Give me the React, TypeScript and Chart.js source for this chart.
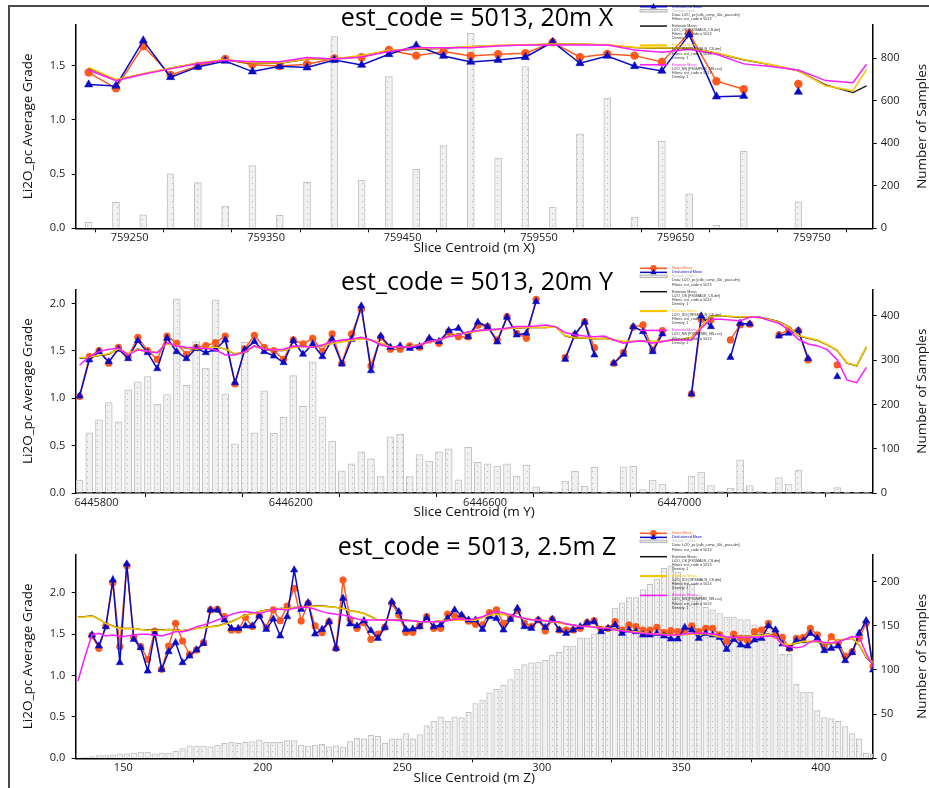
import React, { useEffect, useRef } from 'react';
import { Chart, registerables } from 'chart.js';
Chart.register(...registerables);

// ---------------- Panel 1 : 20m X slices ----------------
const X_CENTROIDS = [759220, 759240, 759260, 759280, 759300, 759320, 759340, 759360, 759380, 759400, 759420, 759440, 759460, 759480, 759500, 759520, 759540, 759560, 759580, 759600, 759620, 759640, 759660, 759680, 759700, 759720, 759740, 759760, 759780];
const X_COUNT = [28, 122, 63, 256, 215, 104, 295, 61, 216, 902, 227, 714, 278, 389, 918, 331, 761, 100, 445, 613, 53, 411, 162, 14, 362, 0, 125, 0, 0];
const X_NAIVE = [1.436, 1.291, 1.681, 1.414, 1.497, 1.562, 1.509, 1.497, 1.512, 1.565, 1.577, 1.645, 1.592, 1.629, 1.589, 1.605, 1.614, 1.715, 1.577, 1.608, 1.592, 1.534, 1.798, 1.356, 1.282, null, 1.331, null, null];
const X_DECL = [1.325, 1.313, 1.731, 1.393, 1.488, 1.543, 1.445, 1.494, 1.482, 1.552, 1.506, 1.605, 1.685, 1.589, 1.534, 1.552, 1.577, 1.718, 1.522, 1.589, 1.494, 1.451, 1.786, 1.214, 1.220, null, 1.257, null, null];
const X_EST_CENTROIDS = [759220, 759240, 759260, 759280, 759300, 759320, 759340, 759360, 759380, 759400, 759420, 759440, 759460, 759480, 759500, 759520, 759540, 759560, 759580, 759600, 759620, 759640, 759660, 759680, 759700, 759720, 759740, 759760, 759780, 759790];
const X_OK = [1.476, 1.368, 1.423, 1.476, 1.522, 1.552, 1.522, 1.522, 1.559, 1.559, 1.589, 1.639, 1.651, 1.660, 1.675, 1.685, 1.691, 1.697, 1.697, 1.691, 1.666, 1.660, 1.660, 1.614, 1.552, 1.506, 1.451, 1.322, 1.251, 1.313];
const X_ID3 = [1.482, 1.372, 1.425, 1.478, 1.524, 1.555, 1.525, 1.525, 1.562, 1.562, 1.592, 1.642, 1.655, 1.662, 1.677, 1.688, 1.693, 1.699, 1.699, 1.693, 1.668, 1.663, 1.662, 1.617, 1.556, 1.509, 1.453, 1.315, 1.267, 1.466];
const X_NN = [1.460, 1.360, 1.420, 1.470, 1.520, 1.550, 1.535, 1.535, 1.575, 1.560, 1.580, 1.630, 1.665, 1.665, 1.665, 1.680, 1.690, 1.690, 1.690, 1.690, 1.645, 1.623, 1.651, 1.605, 1.516, 1.491, 1.460, 1.362, 1.343, 1.512];
const X_TICKS = [759250, 759300, 759350, 759400, 759450, 759500, 759550, 759600, 759650, 759700, 759750];
const X_TICK_LABELS = [759250, 759350, 759450, 759550, 759650, 759750];

// ---------------- Panel 2 : 20m Y slices ----------------
const Y_CENTROIDS = [
  6445765, 6445785, 6445805, 6445825, 6445845, 6445865, 6445885, 6445905, 6445925, 6445945,
  6445965, 6445985, 6446005, 6446025, 6446045, 6446065, 6446085, 6446105, 6446125, 6446145,
  6446165, 6446185, 6446205, 6446225, 6446245, 6446265, 6446285, 6446305, 6446325, 6446345,
  6446365, 6446385, 6446405, 6446425, 6446445, 6446465, 6446485, 6446505, 6446525, 6446545,
  6446565, 6446585, 6446605, 6446625, 6446645, 6446665, 6446685, 6446705, 6446725, 6446745,
  6446765, 6446785, 6446805, 6446825, 6446845, 6446865, 6446885, 6446905, 6446925, 6446945,
  6446965, 6446985, 6447005, 6447025, 6447045, 6447065, 6447085, 6447105, 6447125, 6447145,
  6447165, 6447185, 6447205, 6447225, 6447245, 6447265, 6447285, 6447305, 6447325, 6447345,
  6447365, 6447385];
const Y_COUNT = [
  29, 136, 165, 204, 161, 233, 251, 263, 201, 222, 438, 243, 342, 282, 436, 224, 111, 340, 136, 231,
  135, 171, 265, 196, 296, 172, 117, 50, 66, 93, 77, 37, 127, 133, 37, 87, 72, 93, 100, 30,
  103, 69, 66, 61, 66, 38, 63, 14, 4, 3, 27, 49, 15, 58, 2, 5, 59, 60, 8, 29,
  20, 2, 2, 38, 47, 17, 4, 11, 75, 17, 4, 2, 35, 20, 52, 4, 1, 2, 12, 2,
  1, 1];
const Y_NAIVE = [
  1.018, 1.440, 1.504, 1.370, 1.539, 1.440, 1.644, 1.504, 1.412, 1.658, 1.581, 1.465, 1.539, 1.556, 1.588, 1.658, 1.151, 1.521, 1.665, 1.539,
  1.504, 1.412, 1.616, 1.574, 1.634, 1.496, 1.680, 1.370, 1.680, 1.940, 1.342, 1.644, 1.518, 1.518, 1.553, 1.539, 1.616, 1.581, 1.704, 1.651,
  1.651, 1.771, 1.757, 1.616, 1.863, 1.687, 1.634, 2.046, null, null, 1.433, 1.669, 1.810, 1.535, null, 1.370, 1.486, 1.750, 1.775, 1.511,
  1.715, null, null, 1.046, 1.835, 1.827, null, 1.616, 1.775, 1.782, null, null, 1.669, 1.722, 1.715, 1.405, null, null, 1.352, null,
  null, null];
const Y_DECL = [
  1.025, 1.405, 1.493, 1.387, 1.518, 1.419, 1.609, 1.482, 1.313, 1.634, 1.493, 1.419, 1.528, 1.482, 1.518, 1.616, 1.165, 1.511, 1.599, 1.493,
  1.447, 1.377, 1.609, 1.465, 1.574, 1.440, 1.623, 1.363, 1.623, 1.975, 1.292, 1.658, 1.539, 1.553, 1.528, 1.546, 1.634, 1.599, 1.715, 1.739,
  1.650, 1.803, 1.757, 1.595, 1.856, 1.669, 1.687, 2.021, null, null, 1.412, 1.680, 1.803, 1.458, null, 1.370, 1.465, 1.757, 1.704, 1.493,
  1.680, null, null, 1.046, 1.870, 1.757, null, 1.433, 1.792, 1.785, null, null, 1.658, 1.687, 1.715, 1.419, null, null, 1.229, null,
  null, null];
const Y_OK = [
  1.423, 1.430, 1.451, 1.465, 1.528, 1.465, 1.521, 1.493, 1.482, 1.581, 1.553, 1.528, 1.518, 1.528, 1.546, 1.518, 1.468, 1.482, 1.553, 1.518,
  1.504, 1.504, 1.539, 1.553, 1.539, 1.553, 1.581, 1.599, 1.616, 1.634, 1.616, 1.581, 1.539, 1.539, 1.553, 1.563, 1.599, 1.616, 1.658, 1.680,
  1.694, 1.715, 1.722, 1.729, 1.739, 1.739, 1.746, 1.746, 1.746, 1.757, 1.658, 1.634, 1.634, 1.627, 1.634, 1.616, 1.599, 1.599, 1.606, 1.599,
  1.599, 1.616, 1.623, 1.644, 1.757, 1.870, 1.870, 1.863, 1.856, 1.856, 1.856, 1.835, 1.810, 1.757, 1.658, 1.634, 1.609, 1.563, 1.504, 1.370,
  1.342, 1.539];
const Y_ID3 = [
  1.428, 1.434, 1.455, 1.470, 1.524, 1.470, 1.518, 1.496, 1.486, 1.576, 1.556, 1.531, 1.520, 1.531, 1.542, 1.520, 1.472, 1.486, 1.550, 1.521,
  1.507, 1.507, 1.536, 1.550, 1.542, 1.556, 1.578, 1.596, 1.612, 1.630, 1.612, 1.584, 1.542, 1.542, 1.550, 1.566, 1.596, 1.612, 1.655, 1.676,
  1.690, 1.712, 1.719, 1.726, 1.736, 1.742, 1.749, 1.749, 1.749, 1.753, 1.662, 1.638, 1.637, 1.630, 1.631, 1.619, 1.602, 1.602, 1.603, 1.602,
  1.602, 1.613, 1.620, 1.641, 1.753, 1.866, 1.873, 1.866, 1.859, 1.859, 1.852, 1.832, 1.806, 1.753, 1.662, 1.638, 1.612, 1.566, 1.508, 1.375,
  1.347, 1.545];
const Y_NN = [
  1.352, 1.440, 1.493, 1.518, 1.528, 1.458, 1.511, 1.493, 1.482, 1.588, 1.553, 1.539, 1.528, 1.528, 1.511, 1.458, 1.458, 1.493, 1.553, 1.518,
  1.511, 1.518, 1.553, 1.546, 1.539, 1.563, 1.599, 1.616, 1.627, 1.644, 1.616, 1.563, 1.539, 1.546, 1.539, 1.563, 1.599, 1.616, 1.651, 1.669,
  1.704, 1.715, 1.722, 1.729, 1.739, 1.757, 1.757, 1.764, 1.775, 1.757, 1.694, 1.669, 1.658, 1.651, 1.658, 1.616, 1.581, 1.599, 1.606, 1.581,
  1.599, 1.616, 1.616, 1.616, 1.739, 1.835, 1.835, 1.827, 1.820, 1.856, 1.856, 1.820, 1.792, 1.722, 1.623, 1.574, 1.553, 1.511, 1.405, 1.194,
  1.165, 1.327];
const Y_TICKS = [6445800, 6446000, 6446200, 6446400, 6446600, 6446800, 6447000, 6447200];
const Y_TICK_LABELS = [6445800, 6446200, 6446600, 6447000];

// ---------------- Panel 3 : 2.5m Z slices ----------------
const Z_CENTROIDS = [
  133.75, 136.25, 138.75, 141.25, 143.75, 146.25, 148.75, 151.25, 153.75, 156.25,
  158.75, 161.25, 163.75, 166.25, 168.75, 171.25, 173.75, 176.25, 178.75, 181.25,
  183.75, 186.25, 188.75, 191.25, 193.75, 196.25, 198.75, 201.25, 203.75, 206.25,
  208.75, 211.25, 213.75, 216.25, 218.75, 221.25, 223.75, 226.25, 228.75, 231.25,
  233.75, 236.25, 238.75, 241.25, 243.75, 246.25, 248.75, 251.25, 253.75, 256.25,
  258.75, 261.25, 263.75, 266.25, 268.75, 271.25, 273.75, 276.25, 278.75, 281.25,
  283.75, 286.25, 288.75, 291.25, 293.75, 296.25, 298.75, 301.25, 303.75, 306.25,
  308.75, 311.25, 313.75, 316.25, 318.75, 321.25, 323.75, 326.25, 328.75, 331.25,
  333.75, 336.25, 338.75, 341.25, 343.75, 346.25, 348.75, 351.25, 353.75, 356.25,
  358.75, 361.25, 363.75, 366.25, 368.75, 371.25, 373.75, 376.25, 378.75, 381.25,
  383.75, 386.25, 388.75, 391.25, 393.75, 396.25, 398.75, 401.25, 403.75, 406.25,
  408.75, 411.25, 413.75, 416.25, 418.75];
const Z_COUNT = [
  0, 1, 2, 3, 3, 4, 5, 5, 6, 7, 7, 5, 6, 6, 8, 11, 14, 14, 14, 13,
  15, 17, 18, 17, 18, 19, 21, 18, 18, 18, 20, 20, 15, 14, 15, 16, 13, 14, 13, 19,
  23, 22, 26, 25, 17, 22, 22, 28, 22, 27, 37, 42, 47, 42, 47, 46, 52, 62, 66, 74,
  78, 83, 89, 101, 106, 108, 109, 111, 117, 120, 127, 127, 136, 136, 141, 142, 147, 170, 176, 182,
  182, 191, 197, 203, 215, 218, 211, 199, 197, 185, 171, 168, 164, 160, 160, 157, 157, 151, 149, 148,
  147, 118, 118, 84, 75, 75, 54, 46, 45, 42, 36, 28, 22, 6, 5];
const Z_NAIVE = [
  null, null, 1.481, 1.328, 1.598, 2.121, 1.348, 2.326, 1.461, 1.348,
  1.195, 1.537, 1.074, 1.356, 1.630, 1.416, 1.256, 1.308, 1.396, 1.791,
  1.799, 1.710, 1.549, 1.549, 1.702, 1.590, 1.722, 1.581, 1.791, 1.662,
  1.839, 2.052, 1.658, 1.871, 1.598, 1.517, 1.650, 1.328, 2.153, 1.678,
  1.569, 1.638, 1.437, 1.501, 1.581, 1.871, 1.730, 1.521, 1.521, 1.598,
  1.710, 1.569, 1.569, 1.742, 1.718, 1.710, 1.655, 1.618, 1.610, 1.759,
  1.791, 1.630, 1.698, 1.783, 1.630, 1.590, 1.670, 1.537, 1.678, 1.549,
  1.549, 1.549, 1.569, 1.638, 1.662, 1.557, 1.569, 1.650, 1.549, 1.610,
  1.590, 1.549, 1.549, 1.581, 1.517, 1.541, 1.529, 1.541, 1.598, 1.529,
  1.569, 1.569, 1.489, 1.408, 1.501, 1.449, 1.421, 1.529, 1.549, 1.630,
  1.489, 1.461, 1.328, 1.449, 1.461, 1.569, 1.489, 1.348, 1.469, 1.396,
  1.235, 1.288, 1.449, 1.630, 1.107];
const Z_DECL = [
  null, null, 1.489, 1.356, 1.590, 2.153, 1.155, 2.346, 1.437, 1.336,
  1.054, 1.509, 1.074, 1.288, 1.396, 1.155, 1.235, 1.308, 1.388, 1.791,
  1.791, 1.670, 1.569, 1.569, 1.598, 1.598, 1.722, 1.557, 1.682, 1.477,
  1.710, 2.274, 1.799, 1.879, 1.501, 1.557, 1.650, 1.328, 1.932, 1.622,
  1.598, 1.662, 1.541, 1.449, 1.581, 1.891, 1.771, 1.557, 1.561, 1.590,
  1.698, 1.590, 1.610, 1.690, 1.791, 1.730, 1.670, 1.670, 1.557, 1.710,
  1.690, 1.549, 1.678, 1.811, 1.590, 1.569, 1.670, 1.581, 1.678, 1.549,
  1.509, 1.549, 1.590, 1.638, 1.650, 1.529, 1.569, 1.610, 1.509, 1.549,
  1.529, 1.489, 1.489, 1.509, 1.477, 1.441, 1.441, 1.581, 1.549, 1.449,
  1.509, 1.489, 1.461, 1.316, 1.437, 1.368, 1.356, 1.429, 1.449, 1.598,
  1.549, 1.380, 1.328, 1.421, 1.421, 1.509, 1.449, 1.300, 1.328, 1.356,
  1.179, 1.276, 1.509, 1.662, 1.066];
const Z_OK = [
  1.710, 1.710, 1.722, 1.682, 1.630, 1.598, 1.569, 1.569, 1.569, 1.557,
  1.549, 1.549, 1.549, 1.557, 1.549, 1.541, 1.557, 1.569, 1.581, 1.590,
  1.598, 1.622, 1.650, 1.690, 1.730, 1.750, 1.771, 1.791, 1.799, 1.811,
  1.811, 1.823, 1.823, 1.831, 1.839, 1.839, 1.831, 1.823, 1.811, 1.783,
  1.771, 1.750, 1.710, 1.670, 1.670, 1.670, 1.670, 1.670, 1.662, 1.650,
  1.650, 1.650, 1.662, 1.670, 1.670, 1.670, 1.670, 1.670, 1.702, 1.730,
  1.742, 1.738, 1.730, 1.710, 1.690, 1.678, 1.670, 1.662, 1.650, 1.638,
  1.622, 1.610, 1.598, 1.594, 1.590, 1.581, 1.577, 1.561, 1.549, 1.537,
  1.529, 1.517, 1.509, 1.505, 1.501, 1.493, 1.489, 1.497, 1.501, 1.505,
  1.509, 1.489, 1.469, 1.461, 1.461, 1.469, 1.477, 1.485, 1.489, 1.501,
  1.469, 1.380, 1.368, 1.388, 1.408, 1.408, 1.408, 1.380, 1.380, 1.421,
  1.437, 1.449, 1.368, 1.219, 1.139];
const Z_ID3 = [
  1.706, 1.707, 1.718, 1.679, 1.627, 1.595, 1.566, 1.566, 1.566, 1.554,
  1.546, 1.546, 1.546, 1.554, 1.546, 1.538, 1.554, 1.566, 1.578, 1.587,
  1.595, 1.619, 1.647, 1.687, 1.727, 1.747, 1.768, 1.788, 1.796, 1.808,
  1.808, 1.820, 1.820, 1.828, 1.836, 1.836, 1.828, 1.820, 1.808, 1.780,
  1.768, 1.747, 1.707, 1.667, 1.667, 1.667, 1.667, 1.667, 1.659, 1.647,
  1.647, 1.647, 1.659, 1.667, 1.667, 1.667, 1.667, 1.667, 1.699, 1.727,
  1.739, 1.735, 1.727, 1.707, 1.687, 1.675, 1.667, 1.659, 1.647, 1.635,
  1.619, 1.607, 1.595, 1.591, 1.587, 1.578, 1.574, 1.558, 1.546, 1.534,
  1.526, 1.514, 1.506, 1.502, 1.498, 1.490, 1.486, 1.494, 1.498, 1.502,
  1.506, 1.486, 1.466, 1.458, 1.458, 1.466, 1.474, 1.482, 1.486, 1.498,
  1.466, 1.384, 1.372, 1.392, 1.412, 1.412, 1.412, 1.384, 1.384, 1.425,
  1.441, 1.453, 1.372, 1.230, 1.150];
const Z_NN = [
  0.934, 1.227, 1.489, 1.509, 1.477, 1.489, 1.469, 1.477, 1.489, 1.497,
  1.497, 1.489, 1.477, 1.501, 1.529, 1.529, 1.549, 1.590, 1.610, 1.638,
  1.670, 1.702, 1.738, 1.759, 1.771, 1.759, 1.750, 1.771, 1.799, 1.799,
  1.791, 1.811, 1.823, 1.823, 1.799, 1.771, 1.750, 1.738, 1.730, 1.710,
  1.682, 1.670, 1.670, 1.670, 1.670, 1.670, 1.662, 1.662, 1.662, 1.650,
  1.650, 1.650, 1.650, 1.662, 1.678, 1.678, 1.670, 1.690, 1.710, 1.750,
  1.771, 1.759, 1.730, 1.710, 1.690, 1.670, 1.670, 1.662, 1.650, 1.650,
  1.622, 1.610, 1.590, 1.590, 1.581, 1.569, 1.569, 1.549, 1.541, 1.529,
  1.517, 1.509, 1.501, 1.501, 1.489, 1.489, 1.489, 1.501, 1.509, 1.509,
  1.509, 1.501, 1.489, 1.461, 1.461, 1.461, 1.461, 1.461, 1.469, 1.477,
  1.469, 1.368, 1.348, 1.336, 1.348, 1.408, 1.421, 1.396, 1.396, 1.408,
  1.437, 1.469, 1.461, 1.268, 1.107];
const Z_TICKS = [150, 200, 250, 300, 350, 400];
const Z_TICK_LABELS = [150, 200, 250, 300, 350, 400];

// ---------------- shared texts ----------------
const GRADE_TICKS_1 = [0, 0.5, 1.0, 1.5];
const GRADE_TICKS_2 = [0, 0.5, 1.0, 1.5, 2.0];
const SAMPLE_TICKS_1 = [0, 200, 400, 600, 800];
const SAMPLE_TICKS_2 = [0, 100, 200, 300, 400];
const SAMPLE_TICKS_3 = [0, 50, 100, 150, 200];
const EST_SOURCES = ['Li2O_OK [FS5MALB_CS.dm]', 'Li2O_ID3 [XFSMALB_CS.dm]', 'Li2O_NN [FS5MFMB_NN.csv]'];
const DATA_SOURCE = 'Data: Li2O_pc [cdb_comp_40c_pass.dm]';
const FILTER_TEXT = 'Filters: est_code = 5013';

const ORANGE = '#ff5a1e';
const BLUE = '#0b0bc6';
const GOLD = '#f7c600';
const MAGENTA = '#ff1cff';
const BLACK = '#141414';
const FONT = '"Open Sans", "DejaVu Sans", sans-serif';

interface Panel {
  title: string; xTitle: string;
  xs: number[]; counts: number[]; naive: (number | null)[]; decl: (number | null)[];
  estXs: number[]; ok: number[]; id3: number[]; nn: number[];
  xMin: number; xMax: number; xTicks: number[]; xLabels: number[];
  yMax: number; yTicks: number[]; y2Max: number; y2Ticks: number[];
  top: number; height: number; areaTop: number; areaBottom: number;
  titleBaseline: number; legendY: number; showNaive: boolean; xTitleCenter: number;
  barThickness: number; circleR: number; triR: number;
}

const PANELS: Panel[] = [
  {
    title: 'est_code = 5013, 20m X', xTitle: 'Slice Centroid (m X)',
    xs: X_CENTROIDS, counts: X_COUNT, naive: X_NAIVE, decl: X_DECL,
    estXs: X_EST_CENTROIDS, ok: X_OK, id3: X_ID3, nn: X_NN,
    xMin: 759210.5, xMax: 759794.5, xTicks: X_TICKS, xLabels: X_TICK_LABELS,
    yMax: 1.881, yTicks: GRADE_TICKS_1, y2Max: 960, y2Ticks: SAMPLE_TICKS_1,
    top: 0, height: 258, areaTop: 24.3, areaBottom: 228.3,
    titleBaseline: 26, legendY: 6.7, showNaive: false, xTitleCenter: 248,
    barThickness: 7, circleR: 4.2, triR: 4.8,
  },
  {
    title: 'est_code = 5013, 20m Y', xTitle: 'Slice Centroid (m Y)',
    xs: Y_CENTROIDS, counts: Y_COUNT, naive: Y_NAIVE, decl: Y_DECL,
    estXs: Y_CENTROIDS, ok: Y_OK, id3: Y_ID3, nn: Y_NN,
    xMin: 6445757, xMax: 6447398, xTicks: Y_TICKS, xLabels: Y_TICK_LABELS,
    yMax: 2.151, yTicks: GRADE_TICKS_2, y2Max: 460, y2Ticks: SAMPLE_TICKS_2,
    top: 258, height: 262, areaTop: 31.3, areaBottom: 235,
    titleBaseline: 32, legendY: 10.3, showNaive: true, xTitleCenter: 254.5,
    barThickness: 7, circleR: 3.6, triR: 4.2,
  },
  {
    title: 'est_code = 5013, 2.5m Z', xTitle: 'Slice Centroid (m Z)',
    xs: Z_CENTROIDS, counts: Z_COUNT, naive: Z_NAIVE, decl: Z_DECL,
    estXs: Z_CENTROIDS, ok: Z_OK, id3: Z_ID3, nn: Z_NN,
    xMin: 132.94, xMax: 418.6, xTicks: Z_TICKS, xLabels: Z_TICK_LABELS,
    yMax: 2.463, yTicks: GRADE_TICKS_2, y2Max: 231, y2Ticks: SAMPLE_TICKS_3,
    top: 520, height: 268, areaTop: 34.3, areaBottom: 238.3,
    titleBaseline: 35, legendY: 13.3, showNaive: true, xTitleCenter: 258,
    barThickness: 5.6, circleR: 3.6, triR: 4.2,
  },
];

const W = 929;
const AREA_LEFT = 75.7;
const AREA_RIGHT = 872.7;

function checkLengths(p: Panel) {
  const n = p.xs.length;
  [p.counts, p.naive, p.decl].forEach((a, i) => { if (a.length !== n) throw new Error(p.title + ' series ' + i + ' length ' + a.length + ' != ' + n); });
  const m = p.estXs.length;
  [p.ok, p.id3, p.nn].forEach((a, i) => { if (a.length !== m) throw new Error(p.title + ' est ' + i + ' length ' + a.length + ' != ' + m); });
}

function makePattern(ctx: CanvasRenderingContext2D): CanvasPattern | string {
  const c = document.createElement('canvas');
  c.width = 5; c.height = 6;
  const g = c.getContext('2d');
  if (!g) return '#f1f1f1';
  g.fillStyle = '#f1f1f1';
  g.fillRect(0, 0, 5, 6);
  g.fillStyle = '#b4b4b4';
  g.fillRect(2, 3, 1, 1);
  return ctx.createPattern(c, 'repeat') || '#f1f1f1';
}

function drawLegend(ctx: CanvasRenderingContext2D, p: Panel) {
  const x0 = 640, x1 = 667, tx = 672, xm = 653.5;
  const pitch = 4.05, gap = 7.2;
  let y = p.legendY;
  ctx.save();
  ctx.font = '3.7px "Liberation Sans", Arial, sans-serif';
  ctx.textBaseline = 'middle';
  ctx.textAlign = 'left';
  const line = (color: string, w: number) => {
    ctx.strokeStyle = color; ctx.lineWidth = w;
    ctx.beginPath(); ctx.moveTo(x0, y); ctx.lineTo(x1, y); ctx.stroke();
  };
  const text = (t: string, color: string) => { ctx.fillStyle = color; ctx.fillText(t, tx, y); };
  if (p.showNaive) {
    line(ORANGE, 1.5);
    ctx.fillStyle = ORANGE; ctx.beginPath(); ctx.arc(xm, y, 3.2, 0, Math.PI * 2); ctx.fill();
    text('Naive Mean', ORANGE);
    y += pitch;
  }
  line(BLUE, 1.5);
  ctx.fillStyle = BLUE; ctx.beginPath();
  ctx.moveTo(xm, y - 3.6); ctx.lineTo(xm + 3.1, y + 1.8); ctx.lineTo(xm - 3.1, y + 1.8); ctx.closePath(); ctx.fill();
  text('Declustered Mean', BLUE);
  y += pitch;
  ctx.fillStyle = '#e6e6e6'; ctx.fillRect(x0, y - 1.3, x1 - x0, 2.6);
  ctx.strokeStyle = '#a8a8a8'; ctx.lineWidth = 0.8; ctx.strokeRect(x0, y - 1.3, x1 - x0, 2.6);
  text('Sample Count', '#bdbdbd');
  y += pitch;
  text(DATA_SOURCE, '#333');
  y += pitch;
  text(FILTER_TEXT, '#333');
  const groups = [
    { color: BLACK, w: 1.5, label: '#333', src: EST_SOURCES[0] },
    { color: GOLD, w: 2.2, label: GOLD, src: EST_SOURCES[1] },
    { color: MAGENTA, w: 1.6, label: MAGENTA, src: EST_SOURCES[2] },
  ];
  groups.forEach((gr) => {
    y += gap;
    line(gr.color, gr.w);
    text('Estimate Mean', gr.label);
    y += pitch; text(gr.src, '#333');
    y += pitch; text(FILTER_TEXT, '#333');
    y += pitch; text('Density: 1', '#333');
  });
  ctx.restore();
}

function buildChart(canvas: HTMLCanvasElement, p: Panel): Chart {
  checkLengths(p);
  const ctx = canvas.getContext('2d') as CanvasRenderingContext2D;
  const pattern = makePattern(ctx);
  const pts = (xs: number[], ys: (number | null)[]) => xs.map((x, i) => ({ x, y: ys[i] }));
  const xTitleLH = 13.5 * 1.2;
  const xTitlePad = Math.max(0, (p.height - p.xTitleCenter) - xTitleLH / 2);

  const overlay = {
    id: 'overlay',
    afterDraw(chart: any) {
      const c: CanvasRenderingContext2D = chart.ctx;
      const area = chart.chartArea;
      c.save();
      c.fillStyle = '#000';
      c.font = '25px ' + FONT;
      c.textAlign = 'center';
      c.textBaseline = 'alphabetic';
      c.fillText(p.title, 477, p.titleBaseline);
      const midY = (area.top + area.bottom) / 2;
      c.font = '13.5px ' + FONT;
      c.textBaseline = 'middle';
      c.fillStyle = '#111';
      c.save();
      c.translate(28, midY);
      c.rotate(-Math.PI / 2);
      c.fillText('Li2O_pc Average Grade', 0, 0);
      c.restore();
      c.save();
      c.translate(921.7, midY);
      c.rotate(-Math.PI / 2);
      c.fillText('Number of Samples', 0, 0);
      c.restore();
      c.restore();
      drawLegend(c, p);
    },
  };

  const tickFont = { family: FONT, size: 11, lineHeight: 1 };

  return new Chart(ctx, {
    type: 'line',
    data: {
      datasets: [
        {
          type: 'bar', label: 'Sample Count', data: pts(p.xs, p.counts) as any, yAxisID: 'y2',
          backgroundColor: pattern as any, borderColor: '#c2c2c2', borderWidth: 1,
          barThickness: p.barThickness, order: 10,
        } as any,
        {
          type: 'line', label: 'Naive Mean', data: pts(p.xs, p.naive) as any, yAxisID: 'y',
          borderColor: ORANGE, backgroundColor: ORANGE, borderWidth: 1.5,
          pointStyle: 'circle', pointRadius: p.circleR, pointBackgroundColor: ORANGE,
          pointBorderColor: ORANGE, pointBorderWidth: 0, spanGaps: false, order: 6,
        },
        {
          type: 'line', label: 'Declustered Mean', data: pts(p.xs, p.decl) as any, yAxisID: 'y',
          borderColor: BLUE, backgroundColor: BLUE, borderWidth: 1.5,
          pointStyle: 'triangle', pointRadius: p.triR, pointBackgroundColor: BLUE,
          pointBorderColor: BLUE, pointBorderWidth: 0.5, spanGaps: false, order: 5,
        },
        {
          type: 'line', label: 'Estimate Mean OK', data: pts(p.estXs, p.ok) as any, yAxisID: 'y',
          borderColor: BLACK, borderWidth: 1.3, pointRadius: 0, order: 4,
        },
        {
          type: 'line', label: 'Estimate Mean ID3', data: pts(p.estXs, p.id3) as any, yAxisID: 'y',
          borderColor: GOLD, borderWidth: 1.6, pointRadius: 0, order: 3,
        },
        {
          type: 'line', label: 'Estimate Mean NN', data: pts(p.estXs, p.nn) as any, yAxisID: 'y',
          borderColor: MAGENTA, borderWidth: 1.5, pointRadius: 0, order: 2,
        },
      ],
    },
    options: {
      responsive: false,
      animation: false,
      devicePixelRatio: 1,
      events: [],
      layout: { padding: { top: p.areaTop, left: 0, right: 0, bottom: 0 } },
      plugins: { legend: { display: false }, tooltip: { enabled: false }, title: { display: false } },
      scales: {
        x: {
          type: 'linear', min: p.xMin, max: p.xMax, offset: false,
          grid: { display: true, drawOnChartArea: false, drawTicks: true, tickLength: 4, color: '#000', lineWidth: 1 },
          border: { display: true, color: '#000', width: 1.5 },
          ticks: {
            autoSkip: false, maxRotation: 0, minRotation: 0, padding: 0, color: '#1a1a1a', font: tickFont,
            callback: (v: any) => (p.xLabels.indexOf(Number(v)) >= 0 ? String(v) : ''),
          },
          afterBuildTicks: (s: any) => { s.ticks = p.xTicks.map((v) => ({ value: v })); },
          afterFit: (s: any) => { s.height = p.height - p.areaBottom; },
          title: { display: true, text: p.xTitle, color: '#111', font: { family: FONT, size: 13.5, lineHeight: 1.2 }, padding: { top: 0, bottom: xTitlePad } },
        },
        y: {
          type: 'linear', position: 'left', min: 0, max: p.yMax,
          grid: { display: true, drawOnChartArea: false, drawTicks: true, tickLength: 4, color: '#000', lineWidth: 1 },
          border: { display: true, color: '#000', width: 1.5 },
          ticks: { padding: 6.5, color: '#1a1a1a', font: tickFont, callback: (v: any) => Number(v).toFixed(1) },
          afterBuildTicks: (s: any) => { s.ticks = p.yTicks.map((v) => ({ value: v })); },
          afterFit: (s: any) => { s.width = AREA_LEFT; },
        },
        y2: {
          type: 'linear', position: 'right', min: 0, max: p.y2Max,
          grid: { display: true, drawOnChartArea: false, drawTicks: true, tickLength: 4, color: '#000', lineWidth: 1 },
          border: { display: true, color: '#000', width: 1.5 },
          ticks: { padding: 4, color: '#1a1a1a', font: tickFont, callback: (v: any) => String(v) },
          afterBuildTicks: (s: any) => { s.ticks = p.y2Ticks.map((v) => ({ value: v })); },
          afterFit: (s: any) => { s.width = W - AREA_RIGHT; },
        },
      },
    } as any,
    plugins: [overlay],
  });
}

function PanelCanvas({ panel }: { panel: Panel }) {
  const ref = useRef<HTMLCanvasElement | null>(null);
  useEffect(() => {
    if (!ref.current) return;
    const chart = buildChart(ref.current, panel);
    return () => chart.destroy();
  }, [panel]);
  return (
    <canvas
      ref={ref}
      width={W}
      height={panel.height}
      style={{ position: 'absolute', left: 0, top: panel.top, width: W, height: panel.height, display: 'block' }}
    />
  );
}

export default function App() {
  return (
    <div style={{ position: 'absolute', left: 0, top: 0, width: W, height: 788, overflow: 'hidden', background: '#fff' }}>
      <div style={{ position: 'absolute', left: 8, top: 5, width: 940, height: 800, borderTop: '2px solid #4a4a4a', borderLeft: '2px solid #4a4a4a' }} />
      {PANELS.map((p, i) => (
        <PanelCanvas key={i} panel={p} />
      ))}
    </div>
  );
}
